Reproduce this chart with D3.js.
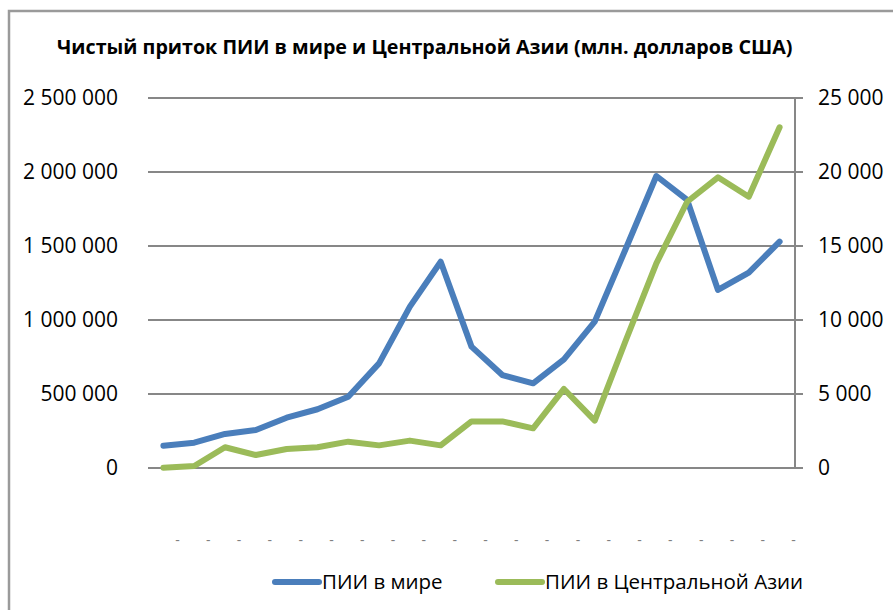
<!DOCTYPE html>
<html>
  <head>
    <meta charset="utf-8">
    <title>ПИИ</title>
    <style>
      body { margin: 0; background: #fff; }
      text { font-family: "Open Sans", "Liberation Sans", sans-serif; fill: #000; }
    </style>
  </head>
  <body>
    <div id="chart"></div>
    <script src="https://cdn.jsdelivr.net/npm/d3@7"></script>
    <script>

    // years (not printed on the axis, the chart shows "-" there)
    var years = [1991,1992,1993,1994,1995,1996,1997,1998,1999,2000,2001,
                 2002,2003,2004,2005,2006,2007,2008,2009,2010,2011];
    var tickLabels = ["-","-","-","-","-","-","-","-","-","-","-",
                      "-","-","-","-","-","-","-","-","-","-"];

    // million USD
    var world = [150000,171000,230000,257000,340000,397000,482000,707000,1090000,1394000,820000,
                 628000,572000,734000,989000,1478000,1973000,1811000,1203000,1320000,1529000];
    var centralAsia = [20,135,1400,880,1280,1400,1780,1530,1850,1530,3150,
                       3150,2680,5340,3200,8580,13830,17990,19640,18330,23020];

    var leftTicks = [0,500000,1000000,1500000,2000000,2500000];
    var rightTicks = [0,5000,10000,15000,20000,25000];

    var title = "Чистый приток ПИИ в мире и Центральной Азии (млн. долларов США)";
    var seriesNames = ["ПИИ в мире", "ПИИ в Центральной Азии"];
    var colors = ["#4a7ebb", "#9bbb59"];

    var width = 893, height = 610;
    var plotL = 148, plotR = 795, plotT = 98, plotB = 468;

    var svg = d3.select("#chart").append("svg")
      .attr("width", width)
      .attr("height", height);

    // outer chart border
    svg.append("rect")
      .attr("x", 9).attr("y", 11)
      .attr("width", 1000).attr("height", 1000)
      .attr("fill", "none")
      .attr("stroke", "#9a9a9a")
      .attr("stroke-width", 2.5);

    var x = d3.scalePoint()
      .domain(years)
      .range([plotL, plotR])
      .padding(0.5);

    var yLeft = d3.scaleLinear().domain([0, 2500000]).range([plotB, plotT]);
    var yRight = d3.scaleLinear().domain([0, 25000]).range([plotB, plotT]);

    var fmt = function(v) { return d3.format(",")(v).replace(/,/g, " "); };

    // gridlines
    svg.append("g")
      .selectAll("line")
      .data(leftTicks)
      .enter()
      .append("line")
      .attr("x1", plotL).attr("x2", plotR + 8)
      .attr("y1", function(d) { return yLeft(d); })
      .attr("y2", function(d) { return yLeft(d); })
      .attr("stroke", "#878787")
      .attr("stroke-width", 2);

    // right axis line
    svg.append("line")
      .attr("x1", plotR).attr("x2", plotR)
      .attr("y1", plotT).attr("y2", plotB + 1)
      .attr("stroke", "#878787")
      .attr("stroke-width", 2);

    var leftAxis = d3.axisLeft(yLeft).tickValues(leftTicks).tickFormat(fmt).tickSize(0).tickPadding(30);
    var gl = svg.append("g").attr("transform", "translate(" + plotL + ",0)").call(leftAxis);
    gl.select(".domain").remove();
    gl.selectAll("text").style("font-size", "21px").attr("font-family", null);

    var rightAxis = d3.axisRight(yRight).tickValues(rightTicks).tickFormat(fmt).tickSize(0).tickPadding(23);
    var gr = svg.append("g").attr("transform", "translate(" + plotR + ",0)").call(rightAxis);
    gr.select(".domain").remove();
    gr.selectAll("text").style("font-size", "21px").attr("font-family", null);

    // category labels (shown as dashes)
    svg.append("g")
      .selectAll("text")
      .data(years)
      .enter()
      .append("text")
      .attr("x", function(d) { return x(d) + 14; })
      .attr("y", 545)
      .attr("text-anchor", "middle")
      .style("font-size", "14px")
      .style("fill", "#7f7f7f")
      .text(function(d, i) { return tickLabels[i]; });

    var lineWorld = d3.line()
      .x(function(d, i) { return x(years[i]); })
      .y(function(d) { return yLeft(d); });

    var lineCA = d3.line()
      .x(function(d, i) { return x(years[i]); })
      .y(function(d) { return yRight(d); });

    svg.append("path")
      .attr("d", lineWorld(world))
      .attr("fill", "none")
      .attr("stroke", colors[0])
      .attr("stroke-width", 6)
      .attr("stroke-linejoin", "round")
      .attr("stroke-linecap", "round");

    svg.append("path")
      .attr("d", lineCA(centralAsia))
      .attr("fill", "none")
      .attr("stroke", colors[1])
      .attr("stroke-width", 6)
      .attr("stroke-linejoin", "round")
      .attr("stroke-linecap", "round");

    // title, scaled to the reference width
    var t = svg.append("text")
      .attr("x", 57)
      .attr("y", 54)
      .style("font-size", "18px")
      .style("font-weight", "bold")
      .text(title);
    var tw = t.node().getComputedTextLength();
    t.style("font-size", (18 * 736 / tw).toFixed(2) + "px");

    // legend
    var legendX = [275, 498];
    var lg = svg.append("g");
    seriesNames.forEach(function(name, i) {
      lg.append("line")
        .attr("x1", legendX[i]).attr("x2", legendX[i] + 44)
        .attr("y1", 582).attr("y2", 582)
        .attr("stroke", colors[i])
        .attr("stroke-width", 6)
        .attr("stroke-linecap", "round");
      lg.append("text")
        .attr("x", legendX[i] + 47)
        .attr("y", 589)
        .style("font-size", "20.5px")
        .text(name);
    });

    </script>
  </body>
</html>
